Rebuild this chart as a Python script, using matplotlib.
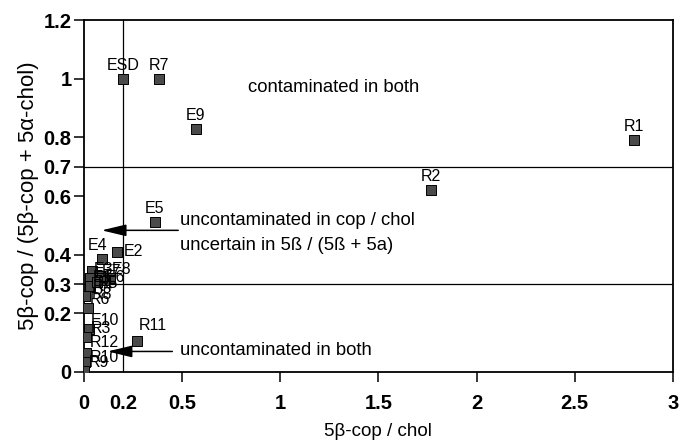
import matplotlib
matplotlib.use("Agg")
from matplotlib import pyplot as plt

plt.rcParams['font.family'] = ['Liberation Sans', 'DejaVu Sans']

# sample ratios: 5b-cop/chol (x) and 5b-cop/(5b-cop+5a-chol) (y)
names = ["ESD", "R7", "E9", "R1", "R2", "E5", "E2", "E4",
         "E8", "E6", "E7", "E3", "E1", "R4", "R5",
         "R6", "R8", "E10", "R3", "R12", "R10", "R9", "R11"]
x = [0.20, 0.38, 0.57, 2.80, 1.77, 0.36, 0.17, 0.09,
     0.13, 0.10, 0.08, 0.04, 0.03, 0.03, 0.065,
     0.005, 0.02, 0.025, 0.012, 0.008, 0.006, 0.0, 0.27]
y = [1.00, 1.00, 0.83, 0.79, 0.62, 0.51, 0.41, 0.385,
     0.32, 0.315, 0.328, 0.344, 0.322, 0.292, 0.308,
     0.258, 0.218, 0.147, 0.118, 0.066, 0.033, 0.004, 0.105]

# label placement (offset px, ha, va)
lab_pos = {"ESD": (0, 6, 'center', 'bottom'), "R7": (0, 6, 'center', 'bottom'),
           "E9": (0, 6, 'center', 'bottom'), "R1": (0, 6, 'center', 'bottom'),
           "R2": (0, 6, 'center', 'bottom'), "E5": (0, 6, 'center', 'bottom'),
           "E2": (6, 0, 'left', 'center'), "E4": (-4, 6, 'center', 'bottom'),
           "E8": (2, 9, 'left', 'center'), "E6": (2, 2, 'left', 'center'),
           "E7": (2, 4, 'left', 'center'), "E3": (2, 2, 'left', 'center'),
           "E1": (3, 0, 'left', 'center'), "R4": (3, 0, 'left', 'center'),
           "R5": (1, -2, 'left', 'center'), "R6": (5, -3, 'left', 'center'),
           "R8": (4, 14, 'left', 'center'), "E10": (2, 8, 'left', 'center'),
           "R3": (4, 9, 'left', 'center'), "R12": (4, 10, 'left', 'center'),
           "R10": (5, 5, 'left', 'center'), "R9": (5, 8, 'left', 'center'),
           "R11": (2, 8, 'left', 'bottom')}

xticks = [0, 0.2, 0.5, 1, 1.5, 2, 2.5, 3]
xticklabels = ["0", "0.2", "0.5", "1", "1.5", "2", "2.5", "3"]
yticks = [0, 0.2, 0.3, 0.4, 0.6, 0.7, 0.8, 1, 1.2]
yticklabels = ["0", "0.2", "0.3", "0.4", "0.6", "0.7", "0.8", "1", "1.2"]

x_cut = 0.2
y_cuts = [0.3, 0.7]

# arrows: (tip, tail)
arrow_hi = ((0.09, 0.483), (0.48, 0.483))
arrow_lo = ((0.12, 0.07), (0.45, 0.07))

fig = plt.figure(figsize=(6.83, 4.41), dpi=100)
ax = fig.add_axes([0.123, 0.1565, 0.862, 0.798])

ax.axvline(x_cut, color='black', lw=0.9, zorder=1)
for yc in y_cuts:
    ax.axhline(yc, color='black', lw=0.9, zorder=1)

ax.scatter(x, y, marker='s', s=48, c='#4a4a4a', edgecolors='black',
           linewidths=0.7, zorder=3)

for n, xi, yi in zip(names, x, y):
    dx, dy, ha, va = lab_pos[n]
    ax.annotate(n, (xi, yi), xytext=(dx * 0.72, dy * 0.72),
                textcoords='offset points', ha=ha, va=va, fontsize=11.5,
                zorder=4)

for tip, tail in [arrow_hi, arrow_lo]:
    ax.annotate('', xy=tip, xytext=tail,
                arrowprops=dict(arrowstyle='-|>,head_length=1.5,head_width=0.36',
                                mutation_scale=10, color='black', lw=1.1,
                                shrinkA=0, shrinkB=0), zorder=5)

ax.text(0.838, 0.97, "contaminated in both", fontsize=13.3, va='center')
ax.text(0.49, 0.515, "uncontaminated in cop / chol", fontsize=13.3, va='center')
ax.text(0.49, 0.432, "uncertain in 5ß / (5ß + 5a)", fontsize=13.3, va='center')
ax.text(0.49, 0.074, "uncontaminated in both", fontsize=13.3, va='center')

ax.set_xlim(0, 3)
ax.set_ylim(0, 1.2)
ax.set_xticks(xticks)
ax.set_xticklabels(xticklabels, fontweight='bold', fontsize=14.5)
ax.set_yticks(yticks)
ax.set_yticklabels(yticklabels, fontweight='bold', fontsize=14.5)
ax.xaxis.get_major_ticks()[1].tick1line.set_visible(False)
ax.tick_params(direction='out', length=7, width=1.1, pad=2)
ax.tick_params(axis='x', pad=9)

for s in ax.spines.values():
    s.set_linewidth(1.3)

ax.set_xlabel("5β-cop / chol", fontsize=13.5, va='center')
ax.xaxis.set_label_coords(0.5, -0.17)
ax.set_ylabel("5β-cop / (5β-cop + 5α-chol)", fontsize=16, va='center')
ax.yaxis.set_label_coords(-0.095, 0.5)

fig.savefig("out.png", dpi=100)
